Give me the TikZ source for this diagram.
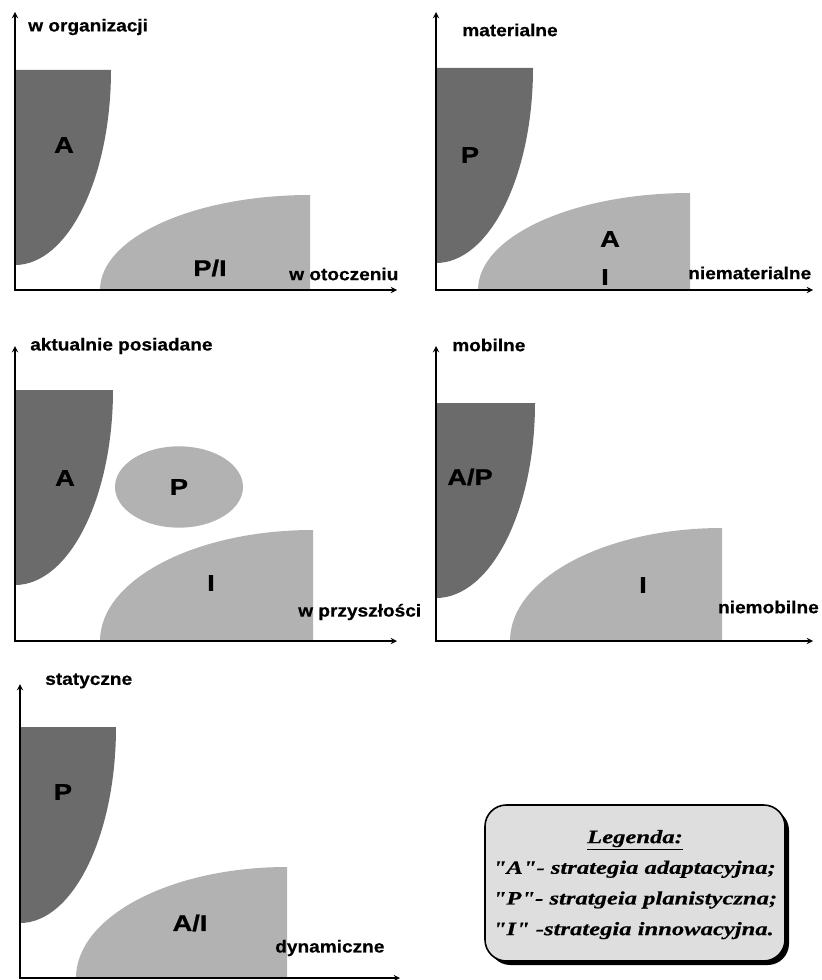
\documentclass[tikz,border=0pt]{standalone}
\usepackage{fontspec}
\setmainfont{Liberation Serif}
\newfontfamily\axfont[FakeStretch=1.1, FakeBold=0.6]{Liberation Sans}
\newfontfamily\rfont[FakeStretch=1.2, FakeBold=1]{Liberation Sans}
\newfontfamily\legfont[FakeStretch=1.3, FakeBold=0.4]{Liberation Serif}
\usetikzlibrary{arrows, shapes.geometric, shadows}
\tikzset{
  ax/.style={<->, >=stealth, line width=1.1pt},
  drk/.style={fill=black!58},
  lgt/.style={fill=black!30},
  axlab/.style={anchor=west, inner sep=0pt, font=\axfont\bfseries\fontsize{13}{15}\selectfont},
  rlab/.style={inner sep=0pt, font=\rfont\bfseries\fontsize{17}{19}\selectfont},
  legbox/.style={draw, line width=1.2pt, rounded corners=16pt, fill=black!13, inner sep=1pt,
    minimum width=225pt, minimum height=117pt,
    drop shadow={shadow xshift=3pt, shadow yshift=-3pt, fill=black, opacity=1},
    font=\legfont\bfseries\itshape\fontsize{14.2}{23}\selectfont}
}

\begin{document}
\begin{tikzpicture}[x=0.75pt, y=-0.75pt]
		\useasboundingbox (0,0) rectangle (821,980);
		% w organizacji / w otoczeniu
		\coordinate (y1) at (15,12);
		\coordinate (x1) at (397,290);
		\fill[drk] (15,70) -- (111,70) arc[start angle=0, end angle=90, x radius=96, y radius=195] -- cycle;
		\fill[lgt] (100,290) arc[start angle=180, end angle=270, x radius=210, y radius=95] -- (310,290) -- cycle;
		\draw[ax] (y1) |- (x1);
		\node[axlab] (yl1) at (28,27) {w organizacji};
		\node[axlab] (xl1) at (289,274) {w otoczeniu};
		\node[rlab] (a1) at (64,145) {A};
		\node[rlab] (pi1) at (210,268) {P/I};
		% materialne / niematerialne
		\coordinate (y2) at (436,12);
		\coordinate (x2) at (813,290);
		\fill[drk] (436,68) -- (533,68) arc[start angle=0, end angle=90, x radius=97, y radius=195] -- cycle;
		\fill[lgt] (478,290) arc[start angle=180, end angle=270, x radius=212, y radius=97] -- (690,290) -- cycle;
		\draw[ax] (y2) |- (x2);
		\node[axlab] (yl2) at (462,30) {materialne};
		\node[axlab] (xl2) at (688,273) {niematerialne};
		\node[rlab] (p2) at (470,155) {P};
		\node[rlab] (a2) at (610,239) {A};
		\node[rlab] (i2) at (605,277) {I};
		% aktualnie posiadane / w przyszlosci
		\coordinate (y3) at (15,346);
		\coordinate (x3) at (397,641);
		\fill[drk] (15,390) -- (113,390) arc[start angle=0, end angle=90, x radius=98, y radius=195] -- cycle;
		\fill[lgt] (100,641) arc[start angle=180, end angle=270, x radius=213, y radius=111] -- (313,641) -- cycle;
		\draw[ax] (y3) |- (x3);
		\node[lgt, ellipse, rlab, minimum width=96pt, minimum height=61pt] (p3) at (179,487) {P};
		\node[axlab] (yl3) at (30,346) {aktualnie posiadane};
		\node[axlab] (xl3) at (298,612) {w przyszłości};
		\node[rlab] (a3) at (65,478) {A};
		\node[rlab] (i3) at (211,583) {I};
		% mobilne / niemobilne
		\coordinate (y4) at (436,346);
		\coordinate (x4) at (813,641);
		\fill[drk] (436,403) -- (535,403) arc[start angle=0, end angle=90, x radius=99, y radius=195] -- cycle;
		\fill[lgt] (510,641) arc[start angle=180, end angle=270, x radius=212, y radius=113] -- (722,641) -- cycle;
		\draw[ax] (y4) |- (x4);
		\node[axlab] (yl4) at (452,345) {mobilne};
		\node[axlab, anchor=east] (xl4) at (819,607) {niemobilne};
		\node[rlab] (ap4) at (470,477) {A/P};
		\node[rlab] (i4) at (643,585) {I};
		% statyczne / dynamiczne
		\coordinate (y5) at (20,684);
		\coordinate (x5) at (400,978);
		\fill[drk] (20,727) -- (116,727) arc[start angle=0, end angle=90, x radius=96, y radius=196] -- cycle;
		\fill[lgt] (76,978) arc[start angle=180, end angle=270, x radius=211, y radius=111] -- (287,978) -- cycle;
		\draw[ax] (y5) |- (x5);
		\node[axlab] (yl5) at (45,681) {statyczne};
		\node[axlab] (xl5) at (275,948) {dynamiczne};
		\node[rlab] (p5) at (63,792) {P};
		\node[rlab] (ai5) at (190,923) {A/I};
		% legenda
		\node[legbox] (leg) at (635,883) {\begin{tabular}{@{}l@{}}
			\multicolumn{1}{c}{\underline{Legenda:}}\\
			"A"- strategia adaptacyjna;\\
			"P"- stratgeia planistyczna;\\
			"I" -strategia innowacyjna.
		\end{tabular}};
	\end{tikzpicture}
\end{document}
